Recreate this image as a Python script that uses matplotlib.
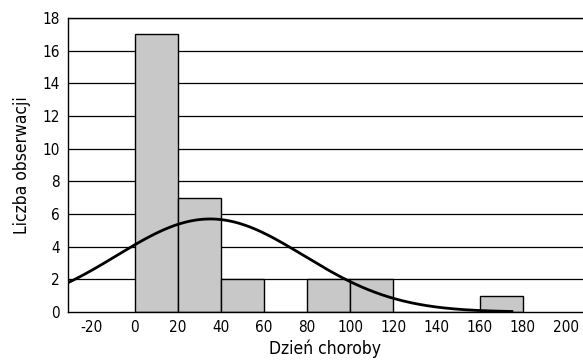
import numpy as np
import matplotlib.pyplot as plt

plt.rcParams['font.family'] = ['DejaVu Sans']
plt.rcParams['font.stretch'] = 'condensed'
plt.rcParams['axes.unicode_minus'] = False

bin_edges = [0, 20, 40, 60, 80, 100, 120, 140, 160, 180]
counts = [17, 7, 2, 0, 2, 2, 0, 0, 1]
fit_mean = 35.0
fit_sd = 43.4
n_obs = sum(counts)
bin_width = 20
x_ticks = [-20, 0, 20, 40, 60, 80, 100, 120, 140, 160, 180, 200]
y_ticks = [0, 2, 4, 6, 8, 10, 12, 14, 16, 18]

fig = plt.figure(figsize=(5.83, 3.63), dpi=100)
ax = fig.add_axes([0.1166, 0.1405, 0.8834, 0.8095])

for y in y_ticks[1:]:
    ax.axhline(y, color='black', lw=0.9, zorder=0)

widths = np.diff(bin_edges)
ax.bar(bin_edges[:-1], counts, width=widths, align='edge',
       color='#c8c8c8', edgecolor='black', lw=1.0, zorder=2)

xs = np.linspace(-31, 175, 400)
ys = n_obs * bin_width / (fit_sd * np.sqrt(2 * np.pi)) * np.exp(-(xs - fit_mean) ** 2 / (2 * fit_sd ** 2))
ax.plot(xs, ys, color='black', lw=2, zorder=3)

ax.set_xlim(-31, 208)
ax.set_ylim(0, 18)
ax.set_xticks(x_ticks)
ax.set_yticks(y_ticks)
ax.tick_params(length=0, labelsize=11, pad=6)
ax.spines['right'].set_visible(False)
for s in ['left', 'bottom', 'top']:
    ax.spines[s].set_linewidth(1.0)

ax.set_xlabel('Dzień choroby', fontsize=12.5, labelpad=3)
ax.set_ylabel('Liczba obserwacji', fontsize=12.5, labelpad=8)

fig.savefig('out.png', dpi=100)
